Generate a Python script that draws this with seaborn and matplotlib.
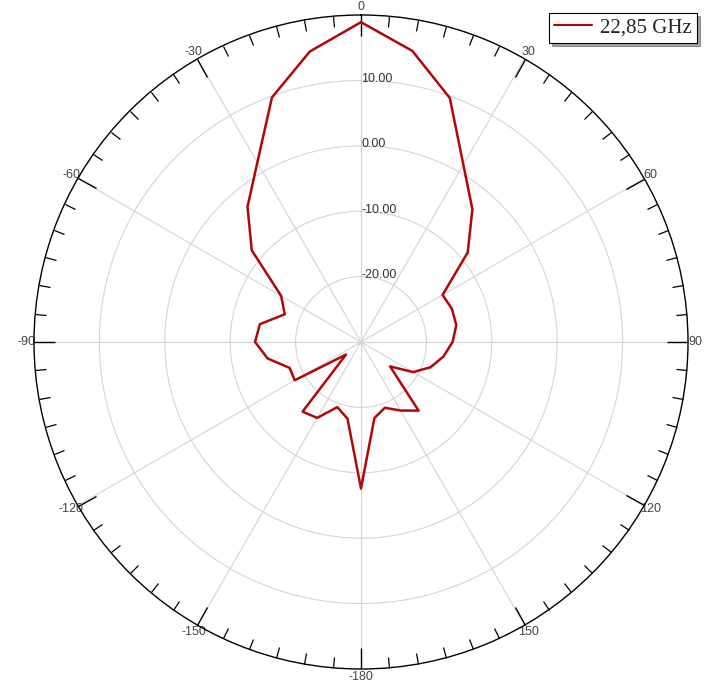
import numpy as np
import pandas as pd
import matplotlib
matplotlib.use("Agg")
import matplotlib.pyplot as plt
import seaborn as sns

# measured pattern, 10 degree steps, clockwise from 0 (top)
angles_deg = [0, 10, 20, 30, 40, 50, 60, 70, 80, 90, 100, 110,
              120, 130, 140, 150, 160, 170, 180, 190, 200, 210, 220, 230,
              240, 250, 260, 270, 280, 290, 300, 310, 320, 330, 340, 350]
gain_db = [18.9, 15.2, 9.7, 1.3, -3.5, -8.7, -15.6, -15.2, -15.2, -16.0, -17.2, -18.7,
           -20.8, -24.2, -16.3, -17.9, -19.3, -18.2, -7.6, -18.1, -19.4, -16.6, -16.1, -27.0,
           -18.3, -18.4, -15.5, -13.8, -14.3, -17.6, -15.9, -8.2, -3.0, 1.7, 9.8, 15.1]
series_label = "22,85 GHz"

ring_values = [-20, -10, 0, 10]
theta_ticks = list(range(0, 360, 30))
theta_labels = ["0", "30", "60", "90", "120", "150", "-180", "-150", "-120", "-90", "-60", "-30"]

sns.set_style("white")
plt.rcParams['font.family'] = ['Liberation Sans', 'DejaVu Sans']

df = pd.DataFrame({
    'theta': np.radians(angles_deg + [angles_deg[0]]),
    'gain': gain_db + [gain_db[0]],
})

fig = plt.figure(figsize=(7.04, 6.90), dpi=100)
ax = fig.add_axes([34 / 704, 21 / 690, 654 / 704, 654 / 690], projection='polar')
ax.set_theta_zero_location('N')
ax.set_theta_direction(-1)

sns.lineplot(data=df, x='theta', y='gain', ax=ax, sort=False, estimator=None,
             color='#b00808', lw=1.8, label=series_label)

ax.set_ylim(-30, 20)
ax.set_yticks(ring_values)
ax.set_yticklabels([])
for v in ring_values:
    ax.text(0, v + 0.2, f"{v:.2f}", ha='left', va='center', fontsize=9, color='#333333')

ax.set_thetagrids(theta_ticks, labels=theta_labels)
ax.set_xticks(np.radians(np.arange(0, 360, 5)), minor=True)
# ticks only on the outer circle
ax.tick_params(axis='x', which='both', bottom=False, top=True)
ax.tick_params(axis='x', which='major', direction='in', length=15, width=1,
               color='black', labelsize=9, labelcolor='#444444', pad=-1.5)
ax.tick_params(axis='x', which='minor', direction='in', length=8, width=0.9, color='black')
ax.set_xlabel('')
ax.set_ylabel('')

ax.grid(True, color='#d4d4d4', lw=0.8)
ax.spines['polar'].set_color('black')
ax.spines['polar'].set_linewidth(1.0)

leg = ax.legend(loc='upper right', bbox_to_anchor=(697 / 704, 1 - 13 / 690),
                bbox_transform=fig.transFigure, borderaxespad=0, frameon=True,
                fancybox=False, shadow=True, handlelength=1.8, handletextpad=0.4,
                borderpad=0.25, prop={'family': 'Liberation Serif', 'size': 15})
leg.get_frame().set_edgecolor('black')
leg.get_frame().set_linewidth(0.8)
for line in leg.get_lines():
    line.set_linewidth(1.5)

fig.savefig('out.png', dpi=100)
